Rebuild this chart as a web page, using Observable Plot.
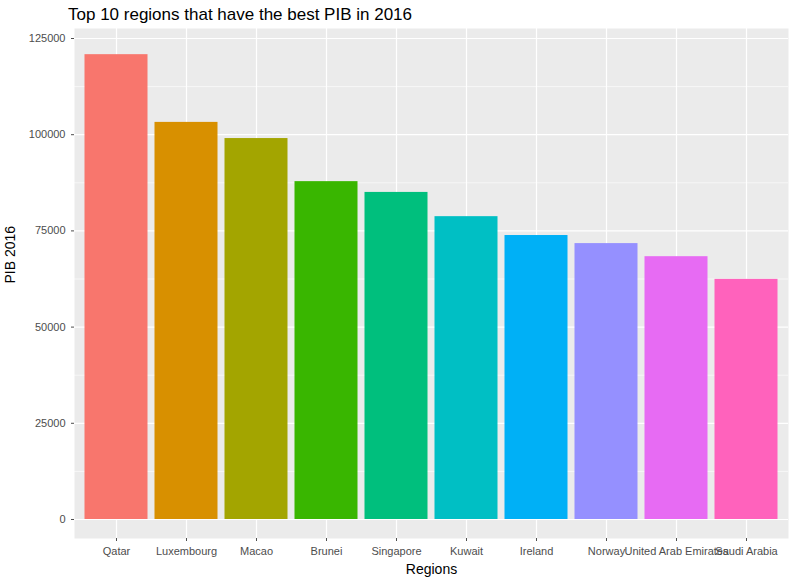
<!DOCTYPE html>
<html>
<head>
<meta charset="utf-8">
<script src="https://cdn.jsdelivr.net/npm/d3@7"></script>
<script src="https://cdn.jsdelivr.net/npm/@observablehq/plot@0.6"></script>
<style>
  body { margin: 0; background: #fff; font-family: 'Liberation Sans', Arial, sans-serif; }
  #title { height: 28px; padding-left: 68px; font-size: 17px; line-height: 30px; color: #000; }
</style>
</head>
<body>
<div id="title">Top 10 regions that have the best PIB in 2016</div>
<div id="chart"></div>
<script>
  const regions = ['Qatar', 'Luxembourg', 'Macao', 'Brunei', 'Singapore', 'Kuwait', 'Ireland', 'Norway', 'United Arab Emirates', 'Saudi Arabia'];
  const pib = [120800, 103200, 99000, 87800, 85000, 78700, 73800, 71700, 68300, 62400];
  const colors = ['#F8766D', '#D89000', '#A3A500', '#39B600', '#00BF7D', '#00BFC4', '#00B0F6', '#9590FF', '#E76BF3', '#FF62BC'];
  const majorTicks = [0, 25000, 50000, 75000, 100000, 125000];
  const minorTicks = [12500, 37500, 62500, 87500, 112500];

  const data = regions.map((r, i) => ({ region: r, pib: pib[i] }));

  const chart = Plot.plot({
    width: 796,
    height: 560,
    marginTop: 0,
    marginLeft: 74,
    marginRight: 8,
    marginBottom: 50,
    style: { fontFamily: "'Liberation Sans', Arial, sans-serif", fontSize: '11px', background: '#fff' },
    x: { domain: regions, paddingInner: 0.1, paddingOuter: 0.15, round: false, label: null },
    y: { domain: [-4940, 127600], label: null },
    color: { domain: regions, range: colors },
    marks: [
      Plot.frame({ fill: '#EBEBEB', stroke: null }),
      Plot.ruleY(minorTicks, { stroke: '#fff', strokeWidth: 0.6 }),
      Plot.ruleY(majorTicks, { stroke: '#fff', strokeWidth: 1.2 }),
      Plot.ruleX(regions, { x: d => d, stroke: '#fff', strokeWidth: 1.2 }),
      Plot.barY(data, { x: 'region', y: 'pib', fill: 'region' }),
      Plot.axisY({ ticks: majorTicks, tickFormat: d => String(d), tickSize: 3, color: '#4D4D4D', fontSize: 11, label: null }),
      Plot.axisX({ tickSize: 3, tickPadding: 6, color: '#4D4D4D', fontSize: 11, label: null }),
      Plot.text(['Regions'], { frameAnchor: 'bottom', dy: 35, fontSize: 14, fill: '#000' }),
      Plot.text(['PIB 2016'], { frameAnchor: 'left', dx: -64, rotate: -90, fontSize: 14, fill: '#000' })
    ]
  });

  document.getElementById('chart').appendChild(chart);
</script>
</body>
</html>
